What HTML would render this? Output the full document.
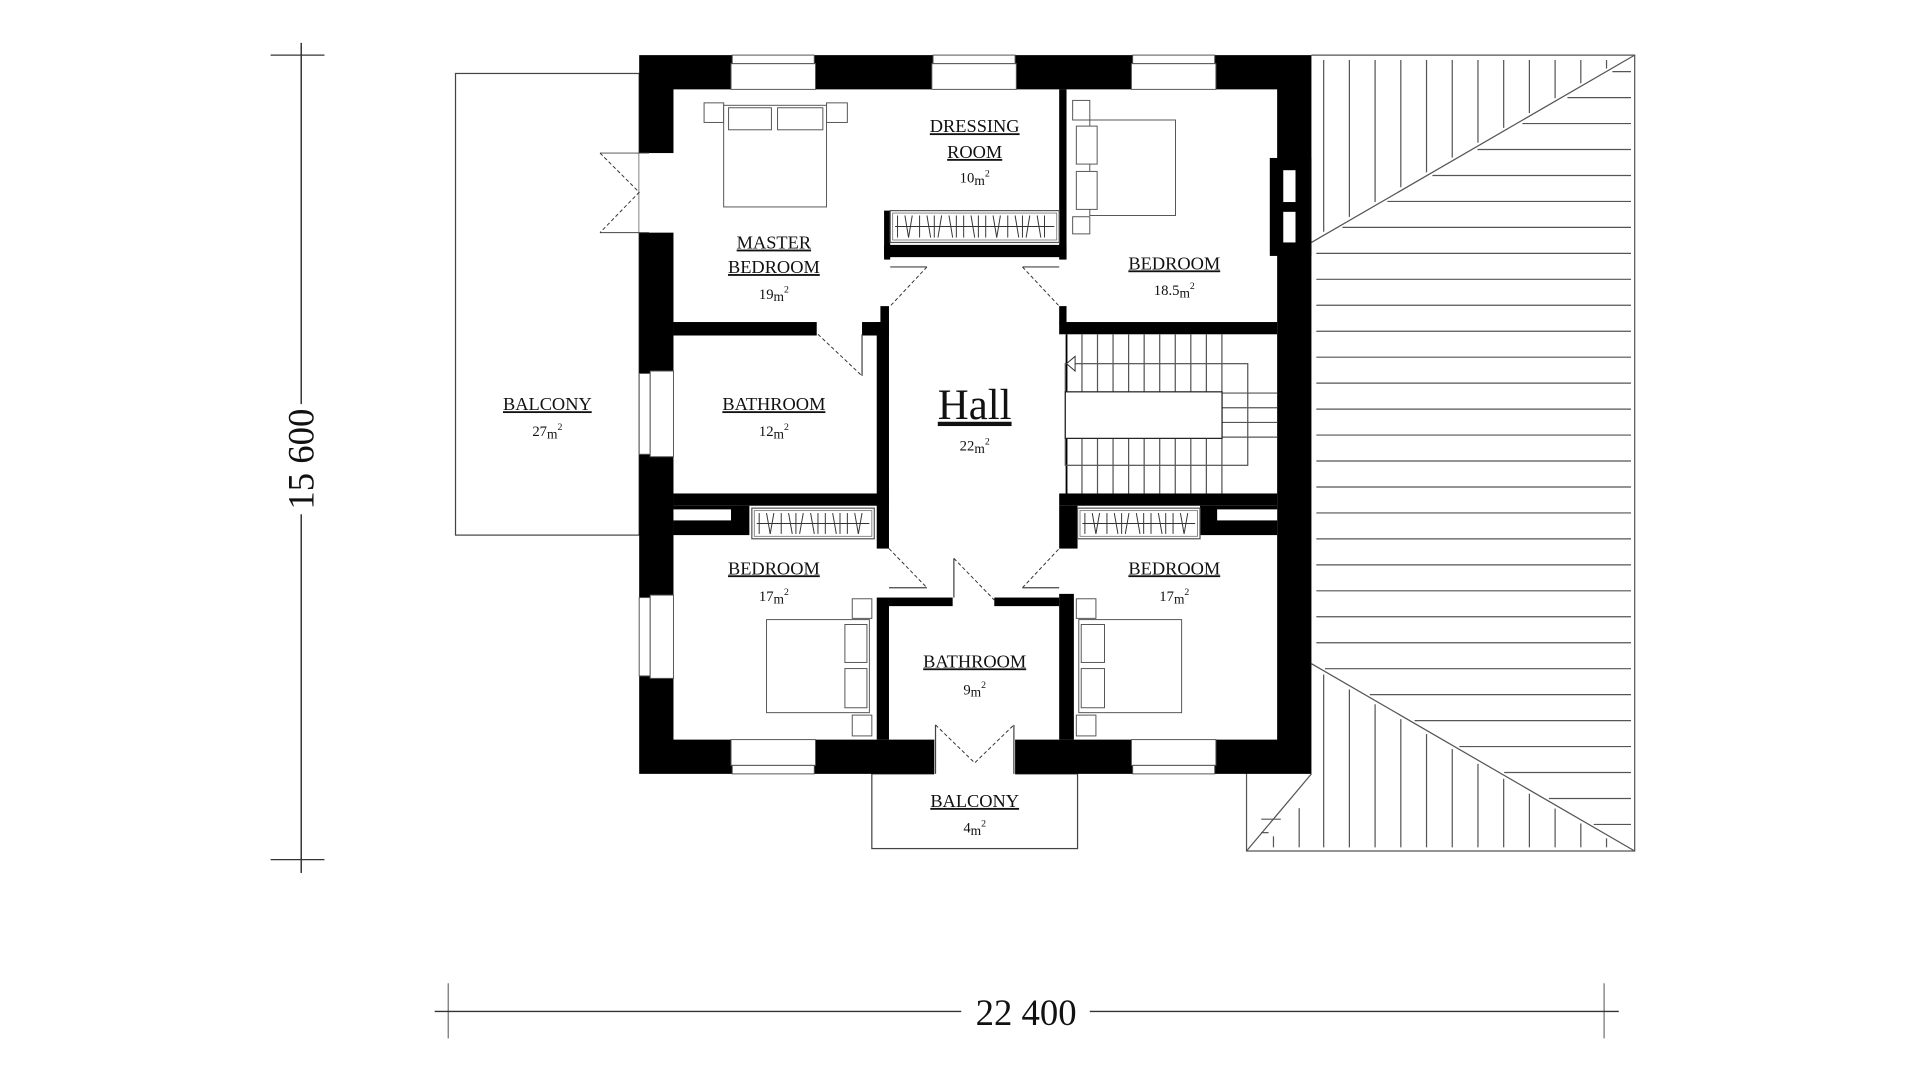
<!DOCTYPE html>
<html><head><meta charset="utf-8"><style>
html,body{margin:0;padding:0;background:#fff;width:1920px;height:1080px;overflow:hidden}
svg{display:block}
text{font-family:"Liberation Serif",serif;fill:#111;text-anchor:middle}
.lb{font-size:15px;text-decoration:underline}
.ar{font-size:12px}
.t{fill:none;stroke:#444;stroke-width:1}
.d{fill:none;stroke:#333;stroke-width:0.8;stroke-dasharray:3,2}
.w{fill:#fff;stroke:#555;stroke-width:0.8}
</style></head><body>
<svg id="s" width="1920" height="1080" viewBox="0 0 1568 882" xmlns="http://www.w3.org/2000/svg">
<rect width="1568" height="882" fill="#fff"/>
<line x1="246" y1="35" x2="246" y2="330" stroke="#333" stroke-width="1.2"/>
<line x1="246" y1="420" x2="246" y2="713" stroke="#333" stroke-width="1.2"/>
<line x1="221" y1="45" x2="265" y2="45" stroke="#333"/>
<line x1="221" y1="702" x2="265" y2="702" stroke="#333"/>
<text x="0" y="0" transform="translate(256,375) rotate(-90)" style="font-size:30px">15 600</text>
<line x1="355" y1="826" x2="785" y2="826" stroke="#333" stroke-width="1.2"/>
<line x1="890" y1="826" x2="1322" y2="826" stroke="#333" stroke-width="1.2"/>
<line x1="366" y1="803" x2="366" y2="848" stroke="#333" stroke-width="0.7"/>
<line x1="1310" y1="803" x2="1310" y2="848" stroke="#333" stroke-width="0.7"/>
<text x="838" y="837" style="font-size:30px">22 400</text>

<rect x="372" y="60" width="150" height="377" class="t"/>
<rect x="712" y="632" width="168" height="61" class="t"/>

<g id="roof" stroke="#555" stroke-width="1" fill="none">
<polyline points="1071,45 1335,45 1335,695 1018,695 1018,632"/>
<line x1="1071" y1="198" x2="1335" y2="45"/>
<line x1="1071" y1="542" x2="1335" y2="695"/>
<line x1="1018" y1="695" x2="1071" y2="632"/>
</g>

<path d="M522,45H1071V632H522Z M550,73V604H1043V73Z" fill="#000" fill-rule="evenodd"/>
<g class="w">
<rect x="598" y="45" width="67" height="7"/><rect x="597" y="52" width="69" height="21"/>
<rect x="762" y="45" width="67" height="7"/><rect x="761" y="52" width="69" height="21"/>
<rect x="925" y="45" width="67" height="7"/><rect x="924" y="52" width="69" height="21"/>
<rect x="598" y="625" width="67" height="7"/><rect x="597" y="604" width="69" height="21"/>
<rect x="925" y="625" width="67" height="7"/><rect x="924" y="604" width="69" height="21"/>
<rect x="522" y="305" width="9" height="66"/><rect x="531" y="303" width="19" height="70"/>
<rect x="522" y="488" width="9" height="64"/><rect x="531" y="486" width="19" height="68"/>
</g>
<rect x="522" y="125" width="29" height="65" fill="#fff"/>
<line x1="490" y1="125" x2="530" y2="125" stroke="#444" stroke-width="0.8"/>
<line x1="490" y1="190" x2="530" y2="190" stroke="#444" stroke-width="0.8"/>
<polyline points="490,125 522,157 490,190" class="d"/>
<rect x="763" y="603" width="66" height="30" fill="#fff"/>
<line x1="764" y1="592" x2="764" y2="632" stroke="#444"/>
<line x1="828" y1="592" x2="828" y2="632" stroke="#444"/>
<polyline points="764,592 796,623 828,592" class="d"/>
<rect x="1037" y="129" width="34" height="80" fill="#000"/>
<rect x="1048" y="139" width="10" height="26" fill="#fff"/>
<rect x="1048" y="173" width="10" height="25" fill="#fff"/>

<g fill="#000">
<rect x="865" y="73" width="6" height="139"/>
<rect x="722" y="200" width="149" height="10"/>
<rect x="722" y="172" width="5" height="40"/>
<rect x="550" y="263" width="117" height="11"/>
<rect x="704" y="263" width="22" height="11"/>
<rect x="719" y="250" width="7" height="14"/>
<rect x="716" y="263" width="10" height="185"/>
<rect x="865" y="250" width="6" height="14"/>
<rect x="865" y="263" width="178" height="10"/>
<rect x="550" y="403" width="176" height="10"/>
<rect x="550" y="413" width="62" height="24"/>
<rect x="865" y="403" width="178" height="10"/>
<rect x="865" y="413" width="15" height="35"/>
<rect x="980" y="413" width="63" height="24"/>
<rect x="726" y="488" width="52" height="7"/>
<rect x="812" y="488" width="53" height="7"/>
<rect x="716" y="488" width="10" height="116"/>
<rect x="865" y="485" width="12" height="119"/>
</g>
<rect x="550" y="416" width="47" height="9" fill="#fff"/>
<rect x="994" y="416" width="49" height="9" fill="#fff"/>
<line x1="871" y1="273" x2="871" y2="403" stroke="#000" stroke-width="1.5"/>

<line x1="727" y1="218" x2="757" y2="218" class="t"/><line x1="757" y1="218" x2="727" y2="250" class="d"/>
<line x1="865" y1="218" x2="835" y2="218" class="t"/><line x1="835" y1="218" x2="865" y2="250" class="d"/>
<line x1="704" y1="273" x2="704" y2="307" class="t"/><line x1="668" y1="273" x2="704" y2="307" class="d"/>
<line x1="726" y1="448" x2="757" y2="480" class="d"/><line x1="726" y1="480" x2="757" y2="480" class="t"/>
<line x1="835" y1="480" x2="865" y2="480" class="t"/><line x1="835" y1="480" x2="865" y2="448" class="d"/>
<line x1="779" y1="488" x2="779" y2="456" class="t"/><line x1="779" y1="456" x2="812" y2="490" class="d"/>

<g id="wr"></g>

<g class="w">
<rect x="575" y="84" width="16" height="16"/><rect x="675" y="84" width="17" height="16"/>
<rect x="591" y="86" width="84" height="83"/>
<rect x="595" y="88" width="35" height="18"/><rect x="635" y="88" width="37" height="18"/>
<rect x="876" y="82" width="14" height="16"/><rect x="876" y="177" width="14" height="14"/>
<rect x="890" y="98" width="70" height="78"/>
<rect x="879" y="103" width="17" height="31"/><rect x="879" y="140" width="17" height="31"/>
<rect x="696" y="489" width="16" height="16"/><rect x="696" y="584" width="16" height="17"/>
<rect x="626" y="506" width="84" height="76"/>
<rect x="690" y="510" width="18" height="31"/><rect x="690" y="546" width="18" height="32"/>
<rect x="879" y="489" width="16" height="16"/><rect x="879" y="584" width="16" height="17"/>
<rect x="881" y="506" width="84" height="76"/>
<rect x="883" y="510" width="19" height="31"/><rect x="883" y="546" width="19" height="32"/>
</g>

<g id="st" stroke="#555" stroke-width="1" fill="none"></g>
<rect x="870" y="320" width="128" height="38" fill="#fff" stroke="#222" stroke-width="1"/>
<polygon points="871,297 878,291 878,303" fill="#fff" stroke="#333" stroke-width="0.8"/>

<text class="lb" x="796" y="108">DRESSING</text>
<text class="lb" x="796" y="129">ROOM</text>
<text class="ar" x="796" y="149">10<tspan font-size="11" dy="2">m</tspan><tspan font-size="8" dy="-7">2</tspan></text>
<text class="lb" x="632" y="203">MASTER</text>
<text class="lb" x="632" y="223">BEDROOM</text>
<text class="ar" x="632" y="244">19<tspan font-size="11" dy="2">m</tspan><tspan font-size="8" dy="-7">2</tspan></text>
<text class="lb" x="959" y="220">BEDROOM</text>
<text class="ar" x="959" y="241">18.5<tspan font-size="11" dy="2">m</tspan><tspan font-size="8" dy="-7">2</tspan></text>
<text class="lb" x="447" y="335">BALCONY</text>
<text class="ar" x="447" y="356">27<tspan font-size="11" dy="2">m</tspan><tspan font-size="8" dy="-7">2</tspan></text>
<text class="lb" x="632" y="335">BATHROOM</text>
<text class="ar" x="632" y="356">12<tspan font-size="11" dy="2">m</tspan><tspan font-size="8" dy="-7">2</tspan></text>
<text x="796" y="342" style="font-size:35px;text-decoration:underline">Hall</text>
<text class="ar" x="796" y="368">22<tspan font-size="11" dy="2">m</tspan><tspan font-size="8" dy="-7">2</tspan></text>
<text class="lb" x="632" y="469">BEDROOM</text>
<text class="ar" x="632" y="491">17<tspan font-size="11" dy="2">m</tspan><tspan font-size="8" dy="-7">2</tspan></text>
<text class="lb" x="959" y="469">BEDROOM</text>
<text class="ar" x="959" y="491">17<tspan font-size="11" dy="2">m</tspan><tspan font-size="8" dy="-7">2</tspan></text>
<text class="lb" x="796" y="545">BATHROOM</text>
<text class="ar" x="796" y="567">9<tspan font-size="11" dy="2">m</tspan><tspan font-size="8" dy="-7">2</tspan></text>
<text class="lb" x="796" y="659">BALCONY</text>
<text class="ar" x="796" y="680">4<tspan font-size="11" dy="2">m</tspan><tspan font-size="8" dy="-7">2</tspan></text>
</svg>
<script>
(function(){
var NS="http://www.w3.org/2000/svg";
function L(g,x1,y1,x2,y2,c){var l=document.createElementNS(NS,"line");l.setAttribute("x1",x1);l.setAttribute("y1",y1);l.setAttribute("x2",x2);l.setAttribute("y2",y2);if(c)l.setAttribute("stroke",c);g.appendChild(l);}
var roof=document.getElementById("roof");
for(var k=0;k<30;k++){var y=58.5+21.2*k;if(y>690)break;var xs=1075;
 if(y<198){xs=1335-(y-45.7)*(264/152.3)+4;}
 if(y>542){xs=1071+(y-542)*(264/153)+4;}
 if(xs<1330)L(roof,xs,y,1332,y);}
for(var x=1081;x<1332;x+=21){var yd=198-(x-1071)*152.3/264-3;if(yd>50)L(roof,x,49,x,yd);
 var yl=542+(x-1071)*153/264+3;if(yl<690)L(roof,x,yl,x,692);}
L(roof,1030,669,1046,669);L(roof,1030,680,1036,680);L(roof,1040,683,1040,692);L(roof,1061,660,1061,692);
var st=document.getElementById("st");
for(var i=0;i<10;i++){var sx=883.6+12.7*i;L(st,sx,273,sx,403);}
var r=document.createElementNS(NS,"rect");r.setAttribute("x",870);r.setAttribute("y",297);r.setAttribute("width",149);r.setAttribute("height",83);st.appendChild(r);
[321,333,345,357].forEach(function(y){L(st,998,y,1043,y);});
var wr=document.getElementById("wr");
function W(x,y,w,h){var a=document.createElementNS(NS,"rect");a.setAttribute("x",x);a.setAttribute("y",y);a.setAttribute("width",w);a.setAttribute("height",h);a.setAttribute("fill","#fff");a.setAttribute("stroke","#555");wr.appendChild(a);
 var b=document.createElementNS(NS,"rect");b.setAttribute("x",x+2);b.setAttribute("y",y+2);b.setAttribute("width",w-4);b.setAttribute("height",h-4);b.setAttribute("fill","none");b.setAttribute("stroke","#777");b.setAttribute("stroke-width","0.7");wr.appendChild(b);
 var g=document.createElementNS(NS,"g");g.setAttribute("stroke","#333");g.setAttribute("stroke-width","0.8");wr.appendChild(g);
 L(g,x+4,y+h/2,x+w-4,y+h/2);
 var n=Math.floor((w-10)/6);for(var i=0;i<n;i++){var xx=x+6+i*6;var sl=(i%3==1)?3:((i%4==2)?-3:0);L(g,xx,y+4,xx+sl,y+h-4);}}
W(727,172,138,26);W(614,415,100,25);W(880,415,100,25);
})();
</script>
</body></html>
